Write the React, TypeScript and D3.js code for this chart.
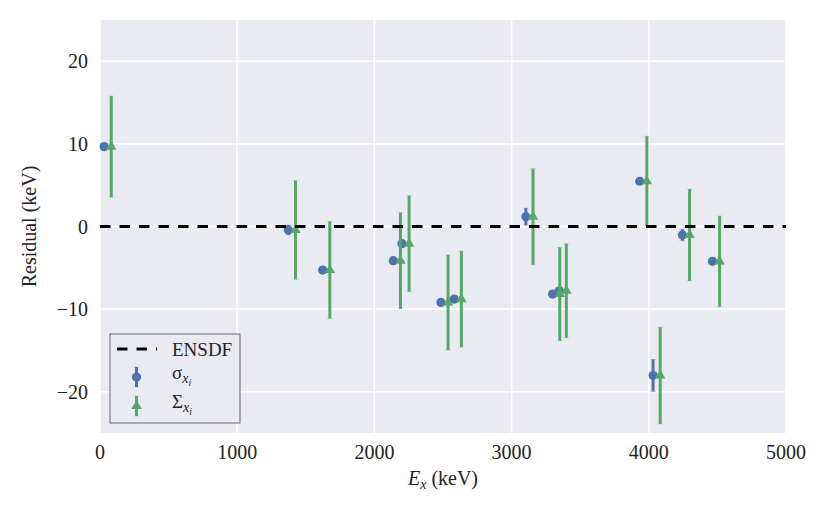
import { useEffect, useRef } from 'react';
import * as d3 from 'd3';

// Excitation energies (keV) and residuals
const energies = [30, 1373, 1623, 2138, 2201, 2485, 2582, 3104, 3299, 3347, 3934, 4031, 4245, 4464];
const residuals = [9.67, -0.42, -5.27, -4.14, -2.08, -9.19, -8.79, 1.19, -8.18, -7.78, 5.48, -18.04, -1.03, -4.22];
const sigmaErr = [0.3, 0.6, 0.3, 0.3, 0.4, 0.3, 0.3, 1.03, 0.3, 0.3, 0.3, 1.94, 0.69, 0.3];
const bigSigmaErr = [6.12, 5.98, 5.88, 5.82, 5.8, 5.76, 5.82, 5.82, 5.66, 5.7, 5.45, 5.86, 5.56, 5.48];
// the Σ points are drawn slightly to the right so both bars stay visible
const sigmaShift = 52;

const xTicks = [0, 1000, 2000, 3000, 4000, 5000];
const yTicks = [-20, -10, 0, 10, 20];

const BLUE = '#4C72B0';
const GREEN = '#55A868';
const FONT = '"Liberation Serif", "DejaVu Serif", serif';

export default function App() {
  const ref = useRef<SVGSVGElement | null>(null);

  useEffect(() => {
    const svg = d3.select(ref.current);
    svg.selectAll('*').remove();

    const width = 830;
    const height = 513;
    const margin = { top: 20, right: 44, bottom: 80, left: 100 };
    const innerW = width - margin.left - margin.right;
    const innerH = height - margin.top - margin.bottom;

    const x = d3.scaleLinear().domain([0, 5000]).range([0, innerW]);
    const y = d3.scaleLinear().domain([-25, 25]).range([innerH, 0]);

    const g = svg.append('g').attr('transform', `translate(${margin.left},${margin.top})`);

    g.append('rect').attr('width', innerW).attr('height', innerH).attr('fill', '#EAEAF2');

    // grid
    g.selectAll('line.vgrid')
      .data(xTicks)
      .join('line')
      .attr('x1', (d) => x(d))
      .attr('x2', (d) => x(d))
      .attr('y1', 0)
      .attr('y2', innerH)
      .attr('stroke', '#fff')
      .attr('stroke-width', 1.6);
    g.selectAll('line.hgrid')
      .data(yTicks)
      .join('line')
      .attr('x1', 0)
      .attr('x2', innerW)
      .attr('y1', (d) => y(d))
      .attr('y2', (d) => y(d))
      .attr('stroke', '#fff')
      .attr('stroke-width', 1.6);

    // tick labels
    const fmt = (d: number) => (d < 0 ? '\u2212' + Math.abs(d) : String(d));
    g.selectAll('text.xt')
      .data(xTicks)
      .join('text')
      .attr('x', (d) => x(d))
      .attr('y', innerH + 26)
      .attr('text-anchor', 'middle')
      .attr('font-family', FONT)
      .attr('font-size', 20)
      .attr('fill', '#222')
      .text((d) => String(d));
    g.selectAll('text.yt')
      .data(yTicks)
      .join('text')
      .attr('x', -12)
      .attr('y', (d) => y(d))
      .attr('dy', '0.35em')
      .attr('text-anchor', 'end')
      .attr('font-family', FONT)
      .attr('font-size', 20)
      .attr('fill', '#222')
      .text(fmt);

    // axis labels
    const xl = g
      .append('text')
      .attr('x', innerW / 2)
      .attr('y', innerH + 52)
      .attr('text-anchor', 'middle')
      .attr('font-family', FONT)
      .attr('font-size', 20)
      .attr('fill', '#222');
    xl.append('tspan').attr('font-style', 'italic').text('E');
    xl.append('tspan').attr('font-style', 'italic').attr('font-size', 14).attr('dy', 4).text('x');
    xl.append('tspan').attr('dy', -4).text(' (keV)');

    g.append('text')
      .attr('transform', `translate(${-64},${innerH / 2}) rotate(-90)`)
      .attr('text-anchor', 'middle')
      .attr('font-family', FONT)
      .attr('font-size', 20)
      .attr('fill', '#222')
      .text('Residual (keV)');

    const idx = d3.range(energies.length);

    // error bars helper
    const bars = (xs: (i: number) => number, errs: number[], color: string) => {
      const eg = g.append('g');
      eg.selectAll('line.bar')
        .data(idx)
        .join('line')
        .attr('x1', xs)
        .attr('x2', xs)
        .attr('y1', (i) => y(residuals[i] + errs[i]))
        .attr('y2', (i) => y(residuals[i] - errs[i]))
        .attr('stroke', color)
        .attr('stroke-width', 3);
      for (const sgn of [1, -1]) {
        eg.selectAll(`line.cap${sgn}`)
          .data(idx)
          .join('line')
          .attr('x1', (i) => xs(i) - 3)
          .attr('x2', (i) => xs(i) + 3)
          .attr('y1', (i) => y(residuals[i] + sgn * errs[i]))
          .attr('y2', (i) => y(residuals[i] + sgn * errs[i]))
          .attr('stroke', color)
          .attr('stroke-opacity', 0.35)
          .attr('stroke-width', 0.8);
      }
      return eg;
    };

    const bx = (i: number) => x(energies[i]);
    const gx = (i: number) => x(energies[i] + sigmaShift);

    bars(bx, sigmaErr, BLUE);
    g.append('g')
      .selectAll('circle')
      .data(idx)
      .join('circle')
      .attr('cx', bx)
      .attr('cy', (i) => y(residuals[i]))
      .attr('r', 4.6)
      .attr('fill', BLUE);

    bars(gx, bigSigmaErr, GREEN);
    const tri = d3.symbol().type(d3.symbolTriangle).size(48);
    g.append('g')
      .selectAll('path')
      .data(idx)
      .join('path')
      .attr('d', tri)
      .attr('transform', (i) => `translate(${gx(i)},${y(residuals[i])})`)
      .attr('fill', GREEN);

    // ENSDF reference line
    g.append('line')
      .attr('x1', 0)
      .attr('x2', innerW)
      .attr('y1', y(0))
      .attr('y2', y(0))
      .attr('stroke', '#000')
      .attr('stroke-width', 3)
      .attr('stroke-dasharray', '10.5,9');

    // legend
    const lg = g.append('g').attr('transform', `translate(${10},${314})`);
    lg.append('rect')
      .attr('x', 0)
      .attr('y', 0)
      .attr('width', 130)
      .attr('height', 89)
      .attr('fill', '#EAEAF2')
      .attr('stroke', '#666')
      .attr('stroke-width', 1);
    lg.append('line')
      .attr('x1', 7)
      .attr('x2', 47)
      .attr('y1', 15)
      .attr('y2', 15)
      .attr('stroke', '#000')
      .attr('stroke-width', 3)
      .attr('stroke-dasharray', '10.5,9');

    const entry = (cy: number, color: string, marker: 'circle' | 'tri') => {
      lg.append('line')
        .attr('x1', 26.5)
        .attr('x2', 26.5)
        .attr('y1', cy - 10)
        .attr('y2', cy + 10)
        .attr('stroke', color)
        .attr('stroke-width', 3);
      for (const dy of [-10, 10]) {
        lg.append('line')
          .attr('x1', 23.5)
          .attr('x2', 29.5)
          .attr('y1', cy + dy)
          .attr('y2', cy + dy)
          .attr('stroke', color)
          .attr('stroke-opacity', 0.35)
          .attr('stroke-width', 0.8);
      }
      if (marker === 'circle') {
        lg.append('circle').attr('cx', 26.5).attr('cy', cy).attr('r', 4.6).attr('fill', color);
      } else {
        lg.append('path').attr('d', tri).attr('transform', `translate(26.5,${cy})`).attr('fill', color);
      }
    };
    entry(43, BLUE, 'circle');
    entry(72, GREEN, 'tri');

    lg.append('text')
      .attr('x', 62)
      .attr('y', 15)
      .attr('dy', '0.35em')
      .attr('font-family', FONT)
      .attr('font-size', 19)
      .attr('fill', '#222')
      .text('ENSDF');

    const sub = (cy: number, sym: string) => {
      const t = lg
        .append('text')
        .attr('x', 62)
        .attr('y', cy)
        .attr('dy', '0.2em')
        .attr('font-family', FONT)
        .attr('font-size', 19)
        .attr('fill', '#222');
      t.append('tspan').text(sym);
      t.append('tspan').attr('font-style', 'italic').attr('font-size', 14).attr('dy', 4).text('x');
      t.append('tspan').attr('font-style', 'italic').attr('font-size', 10).attr('dy', 3).text('i');
    };
    sub(41, '\u03C3');
    sub(70, '\u03A3');
  }, []);

  return <svg ref={ref} width={830} height={513} style={{ display: 'block', margin: -8 }} />;
}
